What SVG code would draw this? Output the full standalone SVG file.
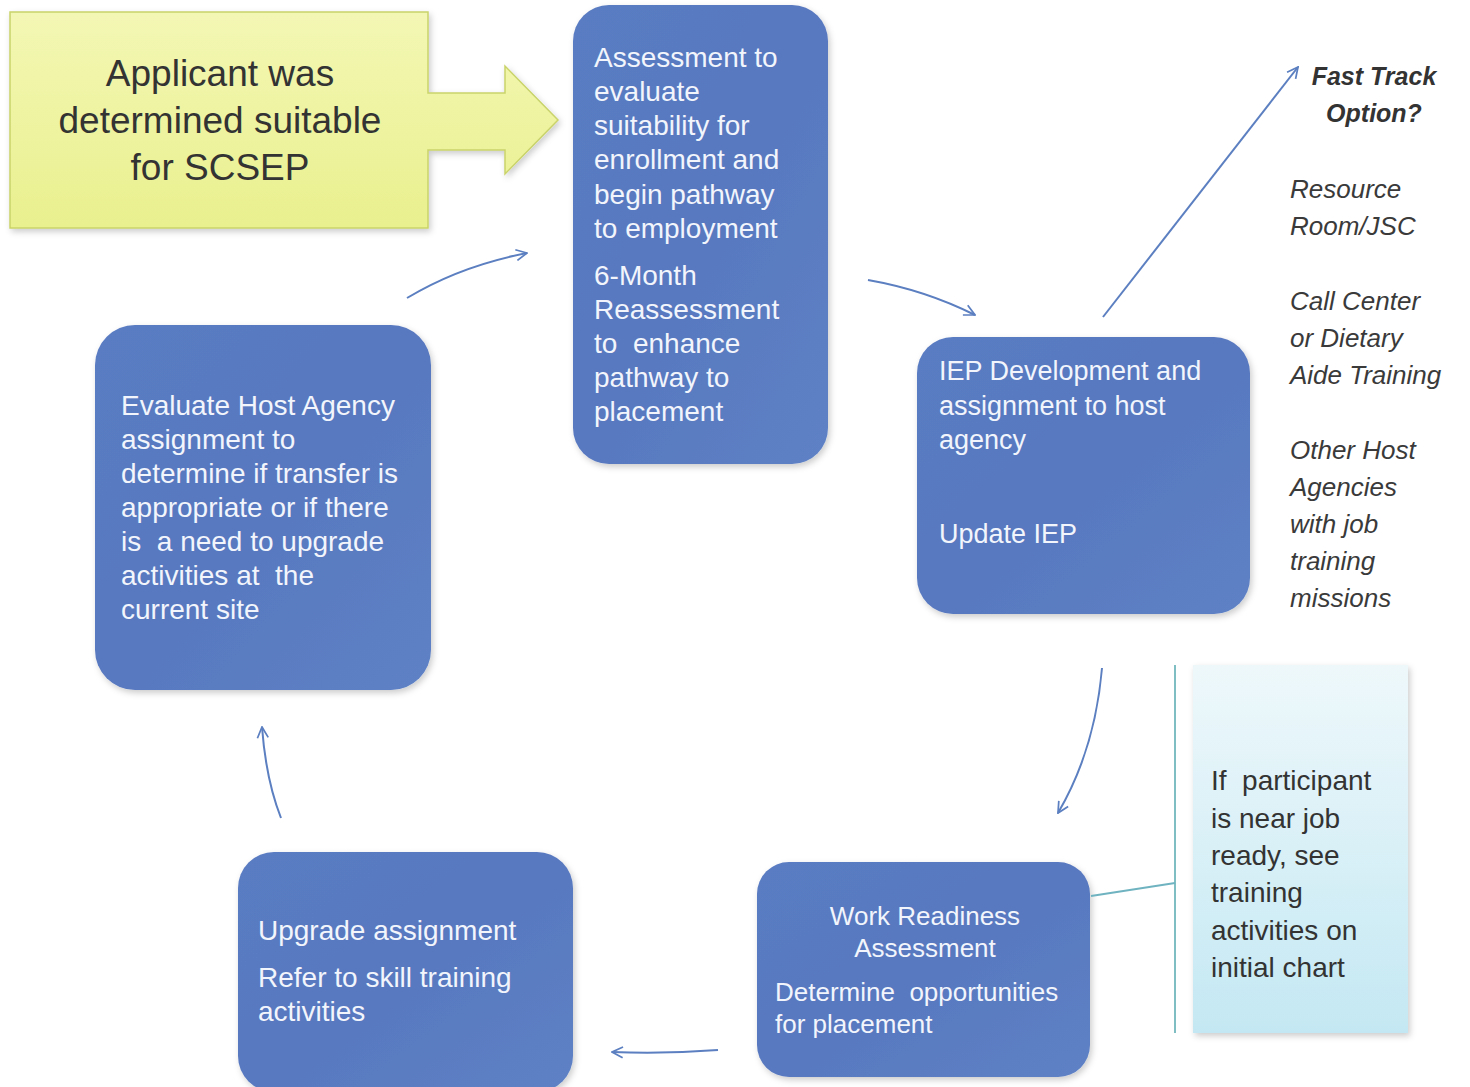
<svg xmlns="http://www.w3.org/2000/svg" width="1470" height="1087" viewBox="0 0 1470 1087">
<defs>
<linearGradient id="gBlue" x1="0" y1="0" x2="1" y2="1">
<stop offset="0" stop-color="#5a7cc2"/>
<stop offset="0.5" stop-color="#5878bf"/>
<stop offset="1" stop-color="#5e81c5"/>
</linearGradient>
<linearGradient id="gYellow" x1="0" y1="0" x2="0" y2="1">
<stop offset="0" stop-color="#f3f7b4"/>
<stop offset="1" stop-color="#e9f08e"/>
</linearGradient>
<linearGradient id="gCallout" x1="0" y1="0" x2="0" y2="1">
<stop offset="0" stop-color="#eef8fb"/>
<stop offset="1" stop-color="#c4e8f3"/>
</linearGradient>
<filter id="sh" x="-10%" y="-10%" width="120%" height="120%">
<feDropShadow dx="2" dy="3" stdDeviation="3" flood-color="#000" flood-opacity="0.2"/>
</filter>
<marker id="ah" viewBox="0 0 12 12" refX="11" refY="6" markerWidth="13" markerHeight="13" markerUnits="userSpaceOnUse" orient="auto">
<path d="M1,1 L11,6 L1,11" fill="none" stroke="#5b7fc0" stroke-width="1.6"/>
</marker>
<style>
.box{fill:url(#gBlue);filter:url(#sh);}
.wt{font-family:"Liberation Sans",Arial,sans-serif;font-size:28px;fill:#f2f5fc;}
.dk{font-family:"Liberation Sans",Arial,sans-serif;fill:#333;}
.it{font-family:"Liberation Sans",Arial,sans-serif;font-style:italic;font-size:26px;fill:#3a3a3a;}
.con{fill:none;stroke:#5b7fc0;stroke-width:2;marker-end:url(#ah);}
</style>
</defs>
<rect width="1470" height="1087" fill="#ffffff"/>

<g id="start">
<path d="M10,12 H428 V93 H505 V66 L558,120 L505,174 V150 H428 V228 H10 Z" fill="url(#gYellow)" stroke="#c9d36a" stroke-width="1.5" filter="url(#sh)"/>
<text class="dk" font-size="37" text-anchor="middle"><tspan x="220" y="86">Applicant was</tspan><tspan x="220" y="133">determined suitable</tspan><tspan x="220" y="180">for SCSEP</tspan></text>
</g>

<g id="assessment">
<rect class="box" x="573" y="5" width="255" height="459" rx="36"/>
<text class="wt"><tspan x="594" y="67">Assessment to</tspan><tspan x="594" y="101">evaluate</tspan><tspan x="594" y="135">suitability for</tspan><tspan x="594" y="169">enrollment and</tspan><tspan x="594" y="204">begin pathway</tspan><tspan x="594" y="238">to employment</tspan><tspan x="594" y="285">6-Month</tspan><tspan x="594" y="319">Reassessment</tspan><tspan x="594" y="353" xml:space="preserve">to  enhance</tspan><tspan x="594" y="387">pathway to</tspan><tspan x="594" y="421">placement</tspan></text>
</g>

<g id="iep">
<rect class="box" x="917" y="337" width="333" height="277" rx="36"/>
<text class="wt" style="font-size:27px"><tspan x="939" y="380">IEP Development and</tspan><tspan x="939" y="415">assignment to host</tspan><tspan x="939" y="449">agency</tspan><tspan x="939" y="543">Update IEP</tspan></text>
</g>

<g id="evaluate">
<rect class="box" x="95" y="325" width="336" height="365" rx="40"/>
<text class="wt"><tspan x="121" y="415">Evaluate Host Agency</tspan><tspan x="121" y="449">assignment to</tspan><tspan x="121" y="483">determine if transfer is</tspan><tspan x="121" y="517">appropriate or if there</tspan><tspan x="121" y="551" xml:space="preserve">is  a need to upgrade</tspan><tspan x="121" y="585" xml:space="preserve">activities at  the</tspan><tspan x="121" y="619">current site</tspan></text>
</g>

<g id="upgrade">
<rect class="box" x="238" y="852" width="335" height="240" rx="36"/>
<text class="wt"><tspan x="258" y="940">Upgrade assignment</tspan><tspan x="258" y="987">Refer to skill training</tspan><tspan x="258" y="1021">activities</tspan></text>
</g>

<g id="workreadiness">
<rect class="box" x="757" y="862" width="333" height="215" rx="32"/>
<text class="wt" style="font-size:26px"><tspan x="925" y="925" text-anchor="middle">Work Readiness</tspan><tspan x="925" y="957" text-anchor="middle">Assessment</tspan><tspan x="775" y="1001" xml:space="preserve">Determine  opportunities</tspan><tspan x="775" y="1033">for placement</tspan></text>
</g>

<g id="callout">
<rect x="1193" y="665" width="215" height="368" fill="url(#gCallout)" filter="url(#sh)"/>
<path d="M1175,665 V1033" stroke="#7fbfc4" stroke-width="2" fill="none"/>
<path d="M1091,896 L1175,883" stroke="#6fb3c0" stroke-width="2" fill="none"/>
<text class="dk" font-size="28"><tspan x="1211" y="790" xml:space="preserve">If  participant</tspan><tspan x="1211" y="828">is near job</tspan><tspan x="1211" y="865">ready, see</tspan><tspan x="1211" y="902">training</tspan><tspan x="1211" y="940">activities on</tspan><tspan x="1211" y="977">initial chart</tspan></text>
</g>

<g id="fasttrack">
<text class="dk" font-size="25" font-weight="bold" font-style="italic" text-anchor="middle"><tspan x="1374" y="85">Fast Track</tspan><tspan x="1374" y="122">Option?</tspan></text>
<text class="it"><tspan x="1290" y="198">Resource</tspan><tspan x="1290" y="235">Room/JSC</tspan><tspan x="1290" y="310">Call Center</tspan><tspan x="1290" y="347">or Dietary</tspan><tspan x="1290" y="384">Aide Training</tspan><tspan x="1290" y="459">Other Host</tspan><tspan x="1290" y="496">Agencies</tspan><tspan x="1290" y="533">with job</tspan><tspan x="1290" y="570">training</tspan><tspan x="1290" y="607">missions</tspan></text>
</g>

<g id="connectors">
<path class="con" d="M407,298 Q460,266 527,253"/>
<path class="con" d="M868,280 Q925,290 975,315"/>
<path class="con" d="M1102,668 Q1095,750 1058,813"/>
<path class="con" d="M718,1050 Q665,1054 612,1052"/>
<path class="con" d="M281,818 Q266,780 262,727"/>
<path class="con" d="M1103,317 L1298,67"/>
</g>
</svg>
